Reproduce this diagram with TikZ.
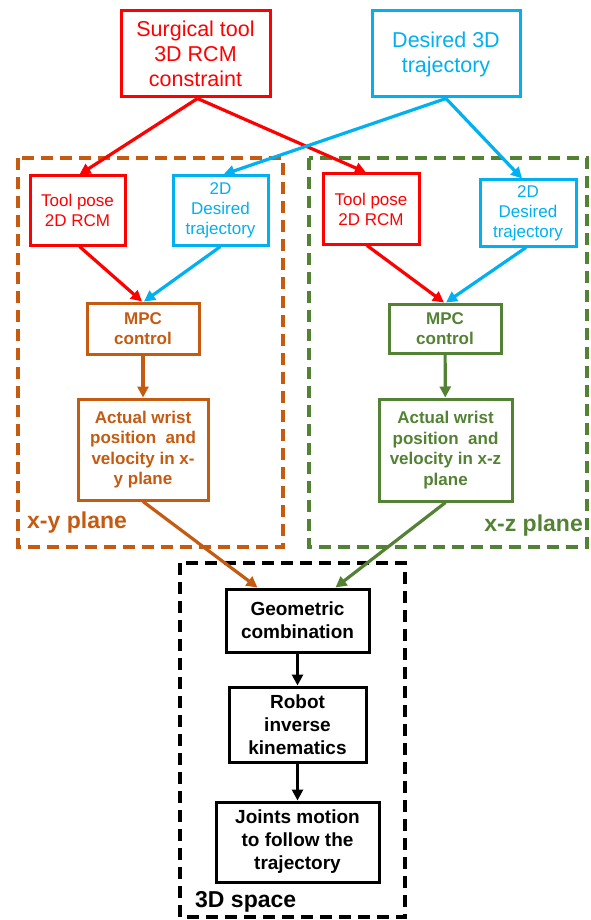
\documentclass[tikz,border=0pt]{standalone}
\usepackage{fontspec}
\setmainfont{Liberation Sans}
\usetikzlibrary{arrows.meta}
\definecolor{cred}{HTML}{FF0000}
\definecolor{cblue}{HTML}{00B0F0}
\definecolor{corange}{HTML}{C55A11}
\definecolor{cgreen}{HTML}{548235}
\tikzset{
  box/.style={draw, line width=3pt, inner sep=0pt, align=center, fill=white},
  topfont/.style={font=\fontsize{21.5}{25}\selectfont},
  smallfont/.style={font=\fontsize{17}{20}\selectfont},
  boldfont/.style={font=\fontsize{17}{20.5}\selectfont\bfseries},
  blackfont/.style={font=\fontsize{19}{23}\selectfont\bfseries},
  labelfont/.style={font=\fontsize{23}{27}\selectfont\bfseries},
  frame/.style={line width=4pt, dash pattern=on 12pt off 7pt},
  arr/.style={line width=3.2pt, -{Triangle[length=11pt,width=11pt]}},
}
\begin{document}
\begin{tikzpicture}[x=1pt,y=-1pt]
\useasboundingbox (0,0) rectangle (590,920);
% frames
\draw[frame, corange] (18,158) rectangle (283,547);
\draw[frame, cgreen] (309,158) rectangle (587,547);
\draw[frame, black] (180,563) rectangle (405,917);
% labels
\node[labelfont, text=corange, anchor=west, inner sep=0pt] (lxy) at (27,523) {x-y plane};
\node[labelfont, text=cgreen, anchor=east, inner sep=0pt] (lxz) at (583,526) {x-z plane};
\node[labelfont, text=black, anchor=west, inner sep=0pt] (l3d) at (195,902) {3D space};
% top boxes
\node[box, topfont, draw=cred, text=cred, minimum width=149pt, minimum height=86pt] (surg) at (195.5,54) {Surgical tool\\3D RCM\\constraint};
\node[box, topfont, draw=cblue, text=cblue, minimum width=148pt, minimum height=86pt] (des3) at (446,54) {Desired 3D\\trajectory};
% left plane
\node[box, smallfont, draw=cred, text=cred, minimum width=95pt, minimum height=69pt] (tpL) at (77.5,210.5) {Tool pose\\2D RCM};
\node[box, smallfont, draw=cblue, text=cblue, minimum width=95pt, minimum height=69pt] (ddL) at (220.5,210.5) {2D\\Desired\\trajectory};
\node[box, boldfont, draw=corange, text=corange, minimum width=112pt, minimum height=51pt] (mpcL) at (143,328.5) {MPC\\control};
\node[box, boldfont, draw=corange, text=corange, minimum width=130pt, minimum height=101pt] (actL) at (143,449.5) {Actual wrist\\position~ and\\velocity in x-\\y plane};
% right plane
\node[box, smallfont, draw=cred, text=cred, minimum width=96pt, minimum height=70pt] (tpR) at (371,209) {Tool pose\\2D RCM};
\node[box, smallfont, draw=cblue, text=cblue, minimum width=96pt, minimum height=66pt] (ddR) at (528,213) {2D\\Desired\\trajectory};
\node[box, boldfont, draw=cgreen, text=cgreen, minimum width=112pt, minimum height=49pt] (mpcR) at (445,328.5) {MPC\\control};
\node[box, boldfont, draw=cgreen, text=cgreen, minimum width=133pt, minimum height=102pt] (actR) at (445.5,450) {Actual wrist\\position~ and\\velocity in x-z\\plane};
% 3D space
\node[box, blackfont, draw=black, minimum width=143pt, minimum height=63pt] (geo) at (297.5,620.5) {Geometric\\combination};
\node[box, blackfont, draw=black, minimum width=137pt, minimum height=75pt] (rob) at (297.5,724.5) {Robot\\inverse\\kinematics};
\node[box, blackfont, draw=black, minimum width=163pt, minimum height=80pt] (joi) at (297.5,842) {Joints motion\\to follow the\\trajectory};
% arrows
\draw[arr, cred] ([xshift=2pt]surg.south) -- ([xshift=2pt]tpL.north);
\draw[arr, cred] ([xshift=2pt]surg.south) -- ([xshift=-5pt]tpR.north);
\draw[arr, cblue] (des3.south) -- ([xshift=3pt]ddL.north);
\draw[arr, cblue] (des3.south) -- ([xshift=-6pt]ddR.north);
\draw[arr, cred] ([xshift=2pt]tpL.south) -- ([xshift=-1pt]mpcL.north);
\draw[arr, cblue] (ddL.south) -- ([xshift=1pt]mpcL.north);
\draw[arr, cred] ([xshift=-4pt]tpR.south) -- ([xshift=-1pt]mpcR.north);
\draw[arr, cblue] ([xshift=-2pt]ddR.south) -- ([xshift=1pt]mpcR.north);
\draw[arr, corange] (mpcL) -- (actL);
\draw[arr, cgreen] (mpcR) -- (actR);
\draw[arr, corange] (actL.south) -- ([xshift=-40pt]geo.north);
\draw[arr, cgreen] (actR.south) -- ([xshift=38pt]geo.north);
\draw[arr, black] (geo) -- (rob);
\draw[arr, black] (rob) -- (joi);
\end{tikzpicture}
\end{document}
